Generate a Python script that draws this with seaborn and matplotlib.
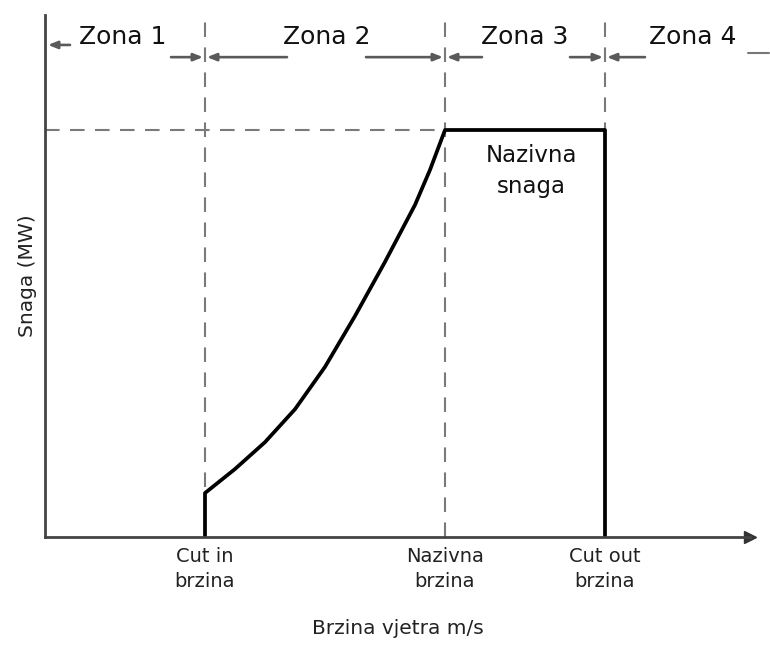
import matplotlib
matplotlib.use("Agg")
import matplotlib.pyplot as plt
import seaborn as sns
import pandas as pd

# ---- data ----
key_speeds = [4.0, 10.0, 14.0]            # cut-in, rated, cut-out
key_labels = ["Cut in\nbrzina", "Nazivna\nbrzina", "Cut out\nbrzina"]
rated_power = 1.0
curve_speed = [4.0, 4.75, 5.5, 6.25, 7.0, 7.75, 8.5, 9.25, 9.625, 10.0]
curve_power = [0.108, 0.167, 0.233, 0.314, 0.418, 0.543, 0.676, 0.816, 0.902, 1.0]
zone_labels = ["Zona 1", "Zona 2", "Zona 3", "Zona 4"]

speed = [key_speeds[0]] + curve_speed + [key_speeds[2], key_speeds[2]]
power = [0.0] + curve_power + [rated_power, 0.0]
df = pd.DataFrame({"speed": speed, "power": power})

sns.set_style("white")
plt.rcParams["font.family"] = ["DejaVu Sans"]

fig = plt.figure(figsize=(7.7, 6.46), dpi=100)
ax = fig.add_axes([45/770, 109/646, 705/770, 522/646])
xmax = 705/40
ymax = 522/407
ax.set_xlim(0, xmax)
ax.set_ylim(0, ymax)

dash_kw = dict(color="#7a7a7a", lw=1.5, dashes=(7, 5))
for xs in key_speeds:
    ax.plot([xs, xs], [0, ymax], **dash_kw)
ax.plot([0, key_speeds[1]], [rated_power, rated_power], **dash_kw)

sns.lineplot(data=df, x="speed", y="power", sort=False, estimator=None,
             color="black", lw=2.7, ax=ax)

for s in ["top", "right"]:
    ax.spines[s].set_visible(False)
for s in ["left", "bottom"]:
    ax.spines[s].set_color("#444444")
    ax.spines[s].set_linewidth(2)
ax.plot([xmax], [0], marker=">", color="#333333", markersize=9, clip_on=False)

ax.set_xticks(key_speeds)
ax.set_xticklabels(key_labels, fontsize=14, color="#222222", linespacing=1.4)
ax.tick_params(axis="x", length=0, pad=7)
ax.set_yticks([])
ax.set_xlabel("Brzina vjetra m/s", fontsize=14.5, color="#222222", labelpad=20)
ax.set_ylabel("Snaga (MW)", fontsize=14.5, color="#222222", labelpad=6)

# zone arrows
ya = 1.179
akw = dict(arrowstyle="-|>,head_length=0.55,head_width=0.22", color="#5a5a5a", lw=1.9,
           shrinkA=0, shrinkB=0)
arrows = [((0.625, 1.209), (0.075, 1.209)),
          ((3.15, ya), (3.95, ya)), ((6.05, ya), (4.05, ya)),
          ((8.025, ya), (9.95, ya)), ((10.925, ya), (10.05, ya)),
          ((13.125, ya), (13.95, ya)), ((15.0, ya), (14.05, ya))]
for start, end in arrows:
    ax.annotate("", xy=end, xytext=start, arrowprops=akw, annotation_clip=False)
ax.plot([17.575, 18.1], [1.189, 1.189], color="#777777", lw=1.5, clip_on=False)

for lab, xc in zip(zone_labels, [1.95, 7.05, 12.0, 16.2]):
    ax.text(xc, 1.229, lab, fontsize=18, ha="center", va="center", color="#111111")

ax.text(12.15, 0.899, "Nazivna\nsnaga", fontsize=16.5, ha="center", va="center",
        color="#111111", linespacing=1.45)

fig.savefig("out.png", dpi=100, facecolor="white")
